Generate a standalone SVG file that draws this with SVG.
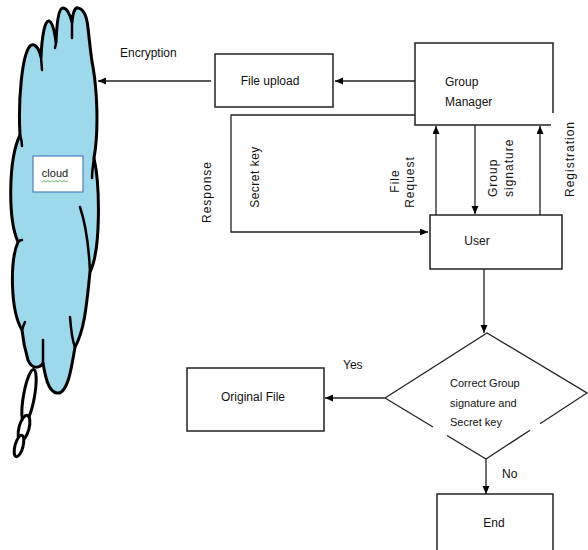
<svg xmlns="http://www.w3.org/2000/svg" width="588" height="550" viewBox="0 0 588 550">
<defs>
<marker id="ah" markerUnits="userSpaceOnUse" markerWidth="9" markerHeight="8" refX="8" refY="3.5" orient="auto">
<path d="M0,0 L8,3.5 L0,7 z" fill="#000"/>
</marker>
<style>
.box{fill:#fff;stroke:#222;stroke-width:1.5}
.ln{fill:none;stroke:#222;stroke-width:1.3}
.arr{fill:none;stroke:#222;stroke-width:1.3;marker-end:url(#ah)}
.t{font-family:"Liberation Sans",Arial,sans-serif;font-size:12px;fill:#111}
.s{font-family:"Liberation Sans",Arial,sans-serif;font-size:11px;fill:#111}
.r{font-family:"Liberation Sans",Arial,sans-serif;font-size:12px;fill:#111;letter-spacing:1px}
.cl{fill:#9dd9ea;stroke:#000;stroke-width:3;stroke-linejoin:round}
.ci{fill:none;stroke:#000;stroke-width:2.5;stroke-linecap:round}
</style>
</defs>
<rect width="588" height="550" fill="#fff"/>

<g id="cloud">
<ellipse cx="29" cy="396" rx="5.5" ry="27" transform="rotate(10 29 396)" fill="#fff" stroke="#000" stroke-width="3"/>
<ellipse cx="24" cy="428" rx="5" ry="13" transform="rotate(15 24 428)" fill="#fff" stroke="#000" stroke-width="3"/>
<ellipse cx="19" cy="446" rx="4" ry="11" transform="rotate(15 19 446)" fill="#fff" stroke="#000" stroke-width="3"/>
<path class="cl" d="M20,135 C18,100 22,55 30,46 C34,42 39,48 41,57 C42,35 45,20 49,21 C53,22 55,35 56,42 C57,20 59,8 63,8 C67,8 70,15 72,22 C73,12 75,7 78,8 C84,9 87,18 88,28 C90,45 91,58 93,67 C97,90 99,130 94,158 C100,185 101,250 90,272 C87,300 85,330 75,347 C72,365 68,395 57,393 C48,392 45,375 43,363 C40,368 32,370 28,360 C25,350 23,340 22,330 C10,310 10,260 18,242 C8,220 8,160 20,135 Z"/>
<path class="ci" d="M41,57 L42,70"/>
<path class="ci" d="M56,42 C56,45 55,47 55,48"/>
<path class="ci" d="M72,22 C72,28 72,33 72,38"/>
<path class="ci" d="M94,158 C93,165 92,172 92,178"/>
<path class="ci" d="M80,207 C86,225 89,250 90,272"/>
<path class="ci" d="M75,347 C72,340 71,330 70,317"/>
<path class="ci" d="M43,363 L43,340"/>
<path class="ci" d="M22,330 C23,327 24,324 25,322"/>
<path class="ci" d="M18,242 C19,241 21,240 22,240"/>
<path class="ci" d="M20,135 C21,138 22,142 22,146"/>
<rect x="33" y="156" width="50" height="36" fill="#fff" stroke="#4f81bd" stroke-width="1.2"/>
<text class="s" x="55" y="177" text-anchor="middle">cloud</text>
<path d="M42,182 l2,-1.5 l2,1.5 l2,-1.5 l2,1.5 l2,-1.5 l2,1.5 l2,-1.5 l2,1.5 l2,-1.5 l2,1.5 l2,-1.5 l2,1.5 l2,-1.5" fill="none" stroke="#3cb043" stroke-width="0.8"/>
</g>

<g id="file-upload">
<rect class="box" x="215" y="54" width="118" height="53"/>
<text class="t" x="270" y="85" text-anchor="middle">File upload</text>
</g>

<g id="group-manager">
<path class="box" d="M551,125 L415,125 L415,43 L553,43 L553,113" fill="#fff"/>
<text class="t" x="445" y="86">Group</text>
<text class="t" x="445" y="106">Manager</text>
</g>

<g id="user">
<rect class="box" x="430" y="215" width="132" height="54"/>
<text class="t" x="477" y="245" text-anchor="middle">User</text>
</g>

<g id="decision">
<path class="ln" d="M385,398 L487,333 L587,393 L540,423.7 M530,430.2 L486,459 L447,435.5 M433,427 L385,398" stroke-width="1.5"/>
<text class="s" x="450" y="387">Correct Group</text>
<text class="s" x="450" y="407">signature and</text>
<text class="s" x="450" y="426">Secret key</text>
</g>

<g id="original-file">
<rect class="box" x="187" y="368" width="137" height="63"/>
<text class="t" x="253" y="401" text-anchor="middle">Original File</text>
</g>

<g id="end">
<rect class="box" x="437" y="494" width="116" height="70"/>
<text class="t" x="494" y="527" text-anchor="middle">End</text>
</g>

<g id="connectors">
<line class="arr" x1="211" y1="81" x2="98" y2="81"/>
<line class="arr" x1="415" y1="81" x2="335" y2="81"/>
<polyline class="arr" points="415,115 231,115 231,232 428,232"/>
<line class="arr" x1="436" y1="215" x2="436" y2="126"/>
<line class="arr" x1="475" y1="125" x2="475" y2="214"/>
<line class="arr" x1="540" y1="215" x2="540" y2="126"/>
<line class="arr" x1="484" y1="269" x2="484" y2="333"/>
<line class="arr" x1="385" y1="398" x2="325" y2="398"/>
<line class="arr" x1="486" y1="459" x2="486" y2="494"/>
</g>

<g id="labels">
<text class="t" x="120" y="57">Encryption</text>
<text class="r" transform="translate(211,192) rotate(-90)" text-anchor="middle">Response</text>
<text class="t" transform="translate(259,177) rotate(-90)" text-anchor="middle" letter-spacing="0.5">Secret key</text>
<text class="r" transform="translate(399,181) rotate(-90)" text-anchor="middle">File</text>
<text class="r" transform="translate(414,182) rotate(-90)" text-anchor="middle">Request</text>
<text class="r" transform="translate(497,197) rotate(-90)">Group</text>
<text class="r" transform="translate(513,197) rotate(-90)">signature</text>
<text class="r" transform="translate(574,197) rotate(-90)">Registration</text>
<text class="t" x="343" y="369">Yes</text>
<text class="t" x="502" y="478">No</text>
</g>
</svg>
